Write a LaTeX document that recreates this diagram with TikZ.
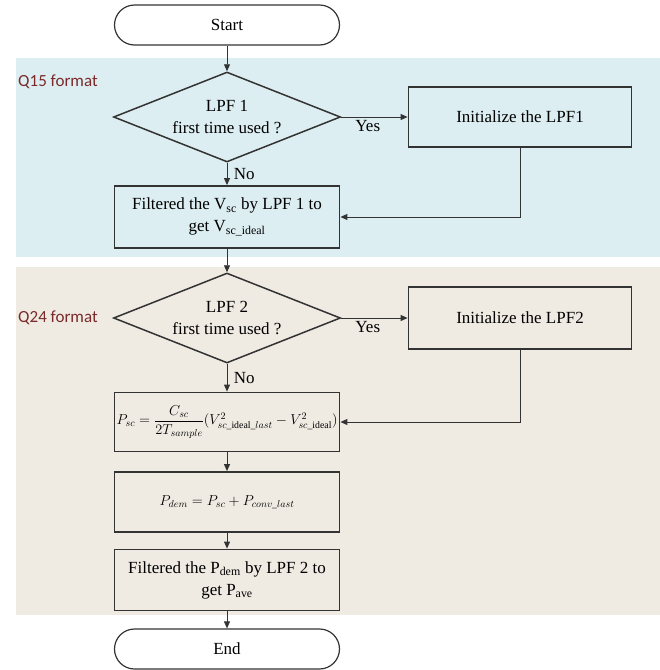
\documentclass[tikz,border=0pt]{standalone}
\usepackage{amsmath}
\usepackage{fontspec}
\setmainfont{Liberation Serif}
\newfontfamily\tagfont{Carlito}
\usetikzlibrary{arrows.meta, shapes.geometric}
\definecolor{linegray}{HTML}{333333}
\definecolor{qsky}{HTML}{DDEEF2}
\definecolor{qsand}{HTML}{EFEBE3}
\definecolor{tagred}{HTML}{7A2A2A}

\begin{document}
\begin{tikzpicture}[x=1pt, y=-1pt, font=\fontsize{17}{22}\selectfont,
  box/.style={draw=linegray, line width=1.8pt, minimum width=225pt, align=center, inner sep=2pt},
  term/.style={box, fill=white, line width=1.2pt, rounded corners=20pt, minimum height=40pt},
  decide/.style={draw=linegray, line width=1.5pt, shape=diamond, aspect=2.5, minimum width=227pt,
    minimum height=90pt, inner sep=0pt, align=center},
  arr/.style={draw=linegray, line width=0.9pt, -{Triangle[length=7pt, width=6pt]}},
  eqn/.style={font=\fontsize{14}{18}\selectfont},
  tag/.style={font=\tagfont\fontsize{17}{20}\selectfont, text=tagred, anchor=west, inner sep=0pt}]
  \useasboundingbox (0,0) rectangle (660,670);
  % format bands
  \fill[qsky] (16,58) rectangle (660,257);
  \fill[qsand] (16,267) rectangle (660,615);
  \node[tag] (q15) at (18,82) {Q15 format};
  \node[tag] (q24) at (18,318) {Q24 format};
  % main column
  \node[term] (start) at (227,25) {Start};
  \node[decide] (lpf1) at (227,117) {LPF 1\\first time used ?};
  \node[box, minimum height=62pt] (filt1) at (227,217)
    {Filtered the V\textsubscript{sc} by LPF 1 to\\get V\textsubscript{sc\_ideal}};
  \node[decide] (lpf2) at (227,318) {LPF 2\\first time used ?};
  \node[box, eqn, minimum height=59pt] (psc) at (227,422)
    {$P_{sc}=\dfrac{C_{sc}}{2T_{sample}}(V_{sc\_\mathrm{ideal}\_last}^{2}-V_{sc\_\mathrm{ideal}}^{2})$};
  \node[box, eqn, minimum height=60pt] (pdem) at (227,502) {$P_{dem}=P_{sc}+P_{conv\_last}$};
  \node[box, minimum height=61pt] (filt2) at (227,580)
    {Filtered the P\textsubscript{dem} by LPF 2 to\\get P\textsubscript{ave}};
  \node[term] (stop) at (227,649) {End};
  % side branch
  \node[box, minimum width=223pt, minimum height=60pt] (init1) at (520,117) {Initialize the LPF1};
  \node[box, minimum width=223pt, minimum height=62pt] (init2) at (520,318) {Initialize the LPF2};
  % connectors
  \draw[arr] (start) -- (lpf1);
  \draw[arr] (lpf1) -- node[right, xshift=3pt] {No} (filt1);
  \draw[arr] (lpf1.east) -- node[below, pos=0.4] {Yes} (init1.west);
  \draw[arr] (init1.south) |- (filt1.east);
  \draw[arr] (filt1) -- (lpf2);
  \draw[arr] (lpf2) -- node[right, xshift=3pt] {No} (psc);
  \draw[arr] (lpf2.east) -- node[below, pos=0.4] {Yes} (init2.west);
  \draw[arr] (init2.south) |- (psc.east);
  \draw[arr] (psc) -- (pdem);
  \draw[arr] (pdem) -- (filt2);
  \draw[arr] (filt2) -- (stop);
\end{tikzpicture}
\end{document}
